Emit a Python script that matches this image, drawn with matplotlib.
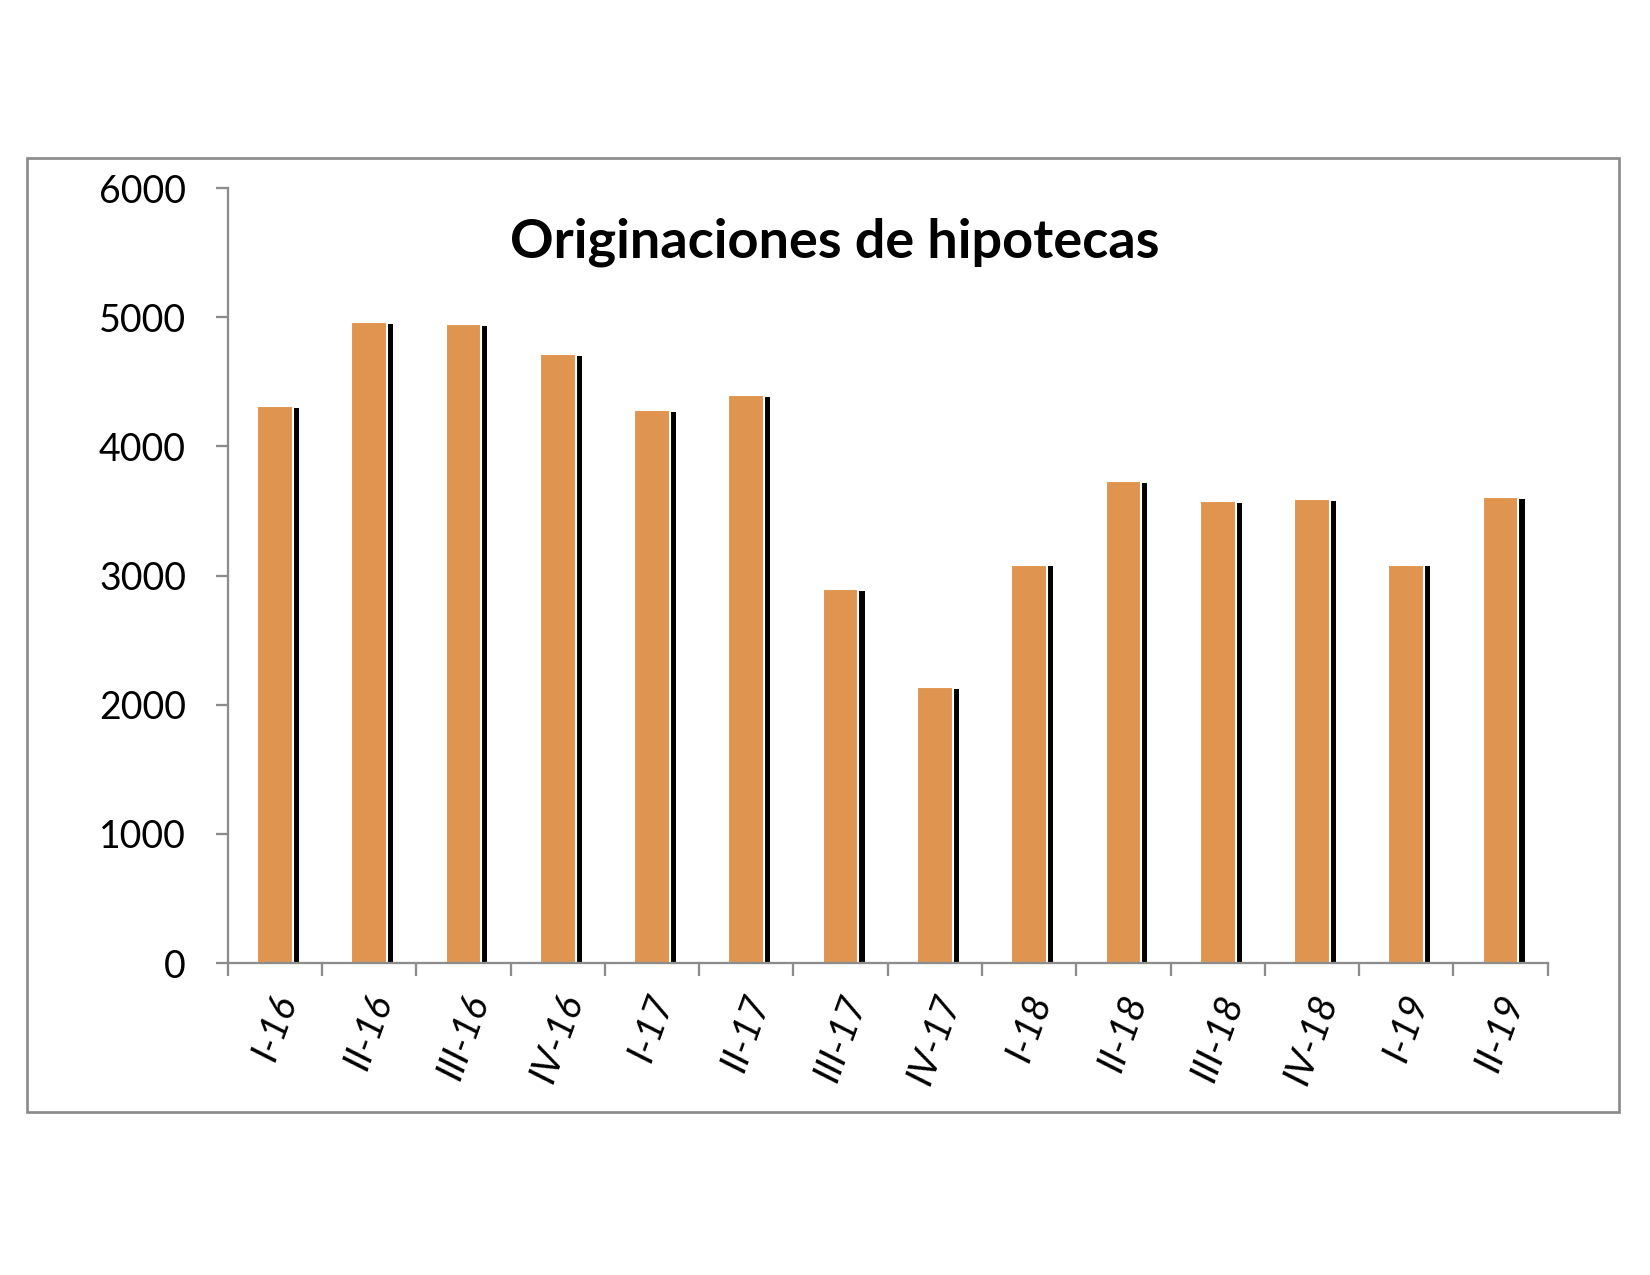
import numpy as np
import matplotlib.pyplot as plt
from matplotlib.patches import Rectangle
from matplotlib.ticker import FixedLocator

# quarters and mortgage originations
quarters = ['I-16', 'II-16', 'III-16', 'IV-16', 'I-17', 'II-17', 'III-17',
            'IV-17', 'I-18', 'II-18', 'III-18', 'IV-18', 'I-19', 'II-19']
originations = [4315, 4960, 4945, 4715, 4285, 4395, 2895,
                2140, 3085, 3735, 3575, 3590, 3085, 3605]

bar_color = '#DF954F'
axis_color = '#8C8C8C'
font = ['Lato', 'DejaVu Sans']

fig = plt.figure(figsize=(11, 8.5), dpi=150)
ax = fig.add_axes([0.138, 0.2447, 0.8, 0.6078])

# outer chart frame
fig.patches.append(Rectangle((27/1650, 1-1112/1275), (1619-27)/1650, (1112-158)/1275,
                             transform=fig.transFigure, fill=False,
                             edgecolor=axis_color, linewidth=1.3, zorder=0))

x = np.arange(len(quarters))
width = 0.38

# black drop shadow behind each bar
ax.bar(x + 0.065, np.array(originations) - 15, width=width, color='black', zorder=2)
ax.bar(x, originations, width=width, color=bar_color, edgecolor='white',
       linewidth=1.0, zorder=3)

ax.set_xlim(-0.5, len(quarters) - 0.5)
ax.set_ylim(0, 6000)
ax.set_yticks(np.arange(0, 6001, 1000))

ax.xaxis.set_major_locator(FixedLocator(x))
ax.xaxis.set_minor_locator(FixedLocator(np.arange(-0.5, len(quarters), 1)))
ax.set_xticklabels(quarters, rotation=70, ha='center', va='top',
                   fontstyle='italic', fontsize=18.5, family=font)
ax.tick_params(axis='x', which='major', length=0, pad=13)
ax.tick_params(axis='x', which='minor', length=6, width=1.1, color=axis_color, direction='out')
ax.tick_params(axis='y', length=6, width=1.1, color=axis_color, pad=14, labelsize=18)
for lab in ax.get_yticklabels():
    lab.set_family(font)

for side in ['top', 'right']:
    ax.spines[side].set_visible(False)
for side in ['left', 'bottom']:
    ax.spines[side].set_color(axis_color)
    ax.spines[side].set_linewidth(1.1)
ax.spines['bottom'].set_zorder(4)

fig.text(835/1650, 1-242/1275, 'Originaciones de hipotecas', ha='center', va='center',
         fontsize=26, fontweight='bold', family=font)

fig.savefig('out.png', dpi=150)
